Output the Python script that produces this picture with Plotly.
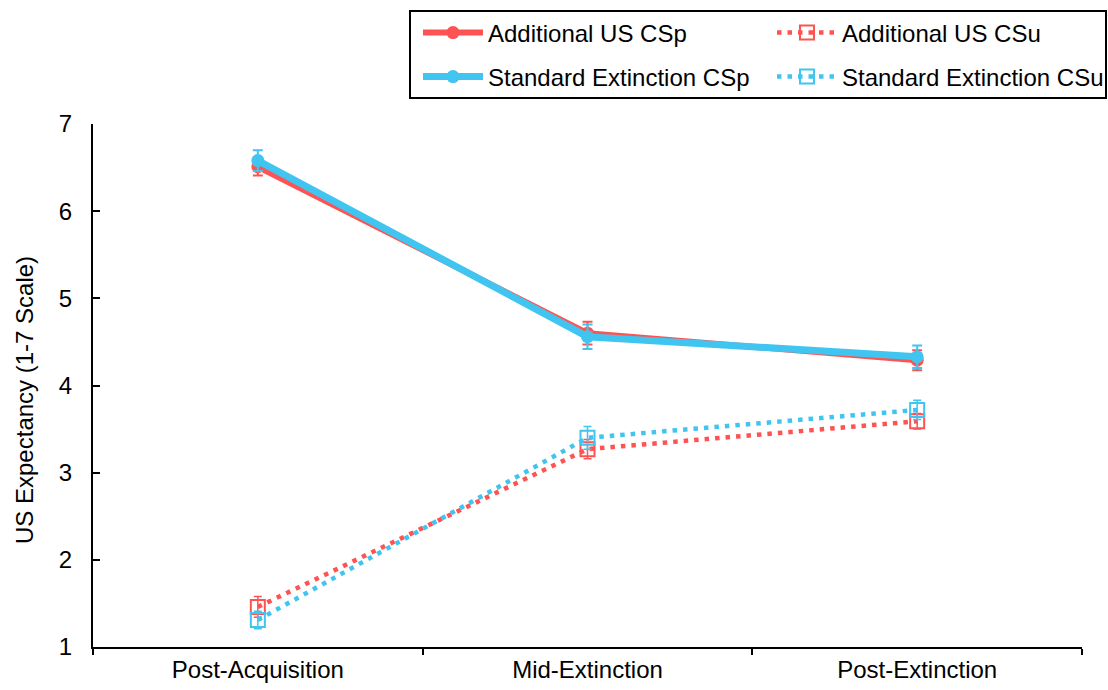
import plotly.graph_objects as go

# ---- data ----
phases = ["Post-Acquisition", "Mid-Extinction", "Post-Extinction"]

add_csp = [6.51, 4.60, 4.29]
add_csp_err = [0.10, 0.13, 0.115]
std_csp = [6.58, 4.56, 4.33]
std_csp_err = [0.12, 0.14, 0.13]

add_csu = [1.46, 3.27, 3.59]
add_csu_err = [0.12, 0.11, 0.09]
std_csu = [1.31, 3.40, 3.72]
std_csu_err = [0.10, 0.13, 0.11]

y_ticks = [1, 2, 3, 4, 5, 6, 7]
y_title = "US Expectancy (1-7 Scale)"

RED = "#FF5353"
BLUE = "#40C4F0"
FONT = "Liberation Sans, Arial, sans-serif"
FS = 24

W, H = 1108, 690
L, R, T, B = 93, 1108 - 1082, 124, 690 - 647
PW = W - L - R
PH = H - T - B


def px2paper_x(px):
    return (px - L) / PW


def px2paper_y(py):
    return (H - B - py) / PH


fig = go.Figure()

# CSu (dotted) traces first so CSp lines sit on top
fig.add_trace(go.Scatter(
    x=phases, y=add_csu, name="Additional US CSu", legend="legend2",
    mode="lines+markers",
    line=dict(color=RED, width=4.5, dash="4.5px,6px"),
    marker=dict(symbol="square-open", size=14, color=RED, line=dict(width=2, color=RED)),
    error_y=dict(type="data", array=add_csu_err, color=RED, thickness=1.5, width=4),
))
fig.add_trace(go.Scatter(
    x=phases, y=std_csu, name="Standard Extinction CSu", legend="legend4",
    mode="lines+markers",
    line=dict(color=BLUE, width=4.5, dash="4.5px,6px"),
    marker=dict(symbol="square-open", size=14, color=BLUE, line=dict(width=2, color=BLUE)),
    error_y=dict(type="data", array=std_csu_err, color=BLUE, thickness=1.5, width=4),
))
fig.add_trace(go.Scatter(
    x=phases, y=add_csp, name="Additional US CSp", legend="legend",
    mode="lines+markers",
    line=dict(color=RED, width=6),
    marker=dict(symbol="circle", size=13, color=RED),
    error_y=dict(type="data", array=add_csp_err, color=RED, thickness=2, width=5),
))
fig.add_trace(go.Scatter(
    x=phases, y=std_csp, name="Standard Extinction CSp", legend="legend3",
    mode="lines+markers",
    line=dict(color=BLUE, width=7),
    marker=dict(symbol="circle", size=13, color=BLUE),
    error_y=dict(type="data", array=std_csp_err, color=BLUE, thickness=2, width=5),
))

col1_x = px2paper_x(418)
col2_x = px2paper_x(772)
row1_y = px2paper_y(33)
row2_y = px2paper_y(77)

leg_common = dict(font=dict(family=FONT, size=FS, color="black"),
                  bgcolor="rgba(0,0,0,0)", borderwidth=0, itemwidth=60,
                  yanchor="middle", orientation="v")

fig.update_layout(
    width=W, height=H,
    margin=dict(l=L, r=R, t=T, b=B, autoexpand=False),
    paper_bgcolor="white", plot_bgcolor="white",
    font=dict(family=FONT, size=FS, color="black"),
    showlegend=True,
    legend=dict(x=col1_x, y=row1_y, xanchor="left", **leg_common),
    legend2=dict(x=col2_x, y=row1_y, xanchor="left", **leg_common),
    legend3=dict(x=col1_x, y=row2_y, xanchor="left", **leg_common),
    legend4=dict(x=col2_x, y=row2_y, xanchor="left", **leg_common),
    xaxis=dict(
        type="category", range=[-0.5, 2.5],
        tickson="boundaries", ticks="outside", ticklen=6, tickwidth=1.5, tickcolor="black",
        showline=True, linecolor="black", linewidth=2,
        showgrid=False, zeroline=False,
        tickfont=dict(family=FONT, size=FS, color="black"),
    ),
    yaxis=dict(
        range=[1, 7], tickvals=y_ticks, ticks="inside", ticklen=7, tickwidth=1.5, tickcolor="black",
        showline=True, linecolor="black", linewidth=2,
        showgrid=False, zeroline=False,
        tickfont=dict(family=FONT, size=FS, color="black"),
        ticklabelstandoff=14,
    ),
    annotations=[dict(
        text=y_title, xref="paper", yref="paper",
        x=px2paper_x(24), y=px2paper_y(400), xanchor="center", yanchor="middle",
        textangle=-90, showarrow=False, font=dict(family=FONT, size=FS, color="black"),
    )],
    shapes=[dict(
        type="rect", xref="paper", yref="paper",
        x0=px2paper_x(410), x1=px2paper_x(1106),
        y0=px2paper_y(98), y1=px2paper_y(11),
        line=dict(color="black", width=2), fillcolor="rgba(0,0,0,0)", layer="above",
    )],
)

fig.write_html(
    "out.html",
    config={"displayModeBar": False},
    post_script="document.body.style.margin='0px';document.body.style.overflow='hidden';",
)
